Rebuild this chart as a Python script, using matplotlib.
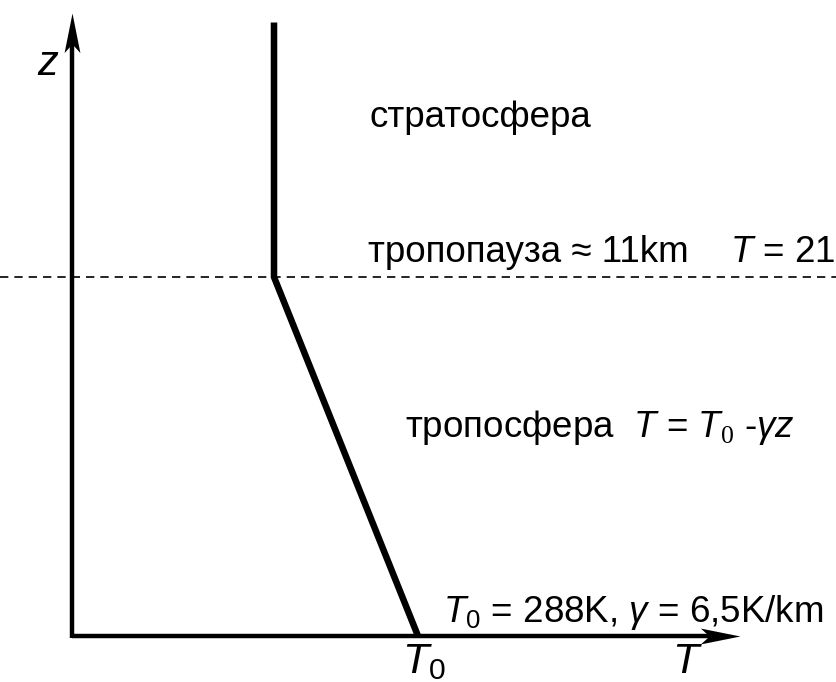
import numpy as np
import matplotlib
matplotlib.use("Agg")
import matplotlib.pyplot as plt
from matplotlib.path import Path
from matplotlib.markers import MarkerStyle
from matplotlib.transforms import Affine2D

plt.rcParams['font.family'] = ['Liberation Sans', 'DejaVu Sans']
plt.rcParams['mathtext.fontset'] = 'custom'
plt.rcParams['mathtext.rm'] = 'Liberation Serif'
plt.rcParams['mathtext.it'] = 'Liberation Sans:italic'
plt.rcParams['mathtext.sf'] = 'Liberation Sans'

# standard atmosphere profile (T in K, z in km)
T0 = 288
gamma = 6.5
z_trop = 11
T_strat = 216
z_top = 18.8
prof_T = [T0, T_strat, T_strat]
prof_z = [0, z_trop, z_top]

# axes of the sketch
T_min, T_max = 115, 449
z_max = 19.1

fig = plt.figure(figsize=(8.37, 6.82), dpi=100)
ax = fig.add_axes([0, 0, 1, 1])
ax.set_xlim(79, 497.5)
ax.set_ylim(-1.41, 19.49)
ax.axis('off')

# arrow head with a notched back
head = Path([(0, 0), (-1, 0.2), (-0.78, 0), (-1, -0.2), (0, 0)],
            [Path.MOVETO, Path.LINETO, Path.LINETO, Path.LINETO, Path.CLOSEPOLY])
head_x = MarkerStyle(head)
head_z = MarkerStyle(head, transform=Affine2D().rotate_deg(90))

ax.plot([T_min, T_max - 10], [0, 0], color='k', lw=3.2, solid_capstyle='butt')
ax.plot([T_min, T_min], [-0.05, z_max - 0.6], color='k', lw=3.2, solid_capstyle='butt')
ax.plot(T_max, 0, marker=head_x, ms=57, color='k', mew=0)
ax.plot(T_min, z_max, marker=head_z, ms=57, color='k', mew=0)

# tropopause level
ax.axhline(z_trop, color='k', lw=1.2, ls=(0, (5, 3.6)))

# temperature profile
ax.plot(prof_T, prof_z, color='k', lw=4.7, solid_joinstyle='miter',
        solid_capstyle='butt')

fs = 26.5
ax.text(97.5, 17.19, '$z$', fontsize=30, va='baseline')
ax.text(T0 + 3, -1.40, r'$T_{\mathsf{0}}$', fontsize=31, va='bottom', ha='center')
ax.text(415, -1.40, '$T$', fontsize=31, va='bottom')

ax.text(264, 15.59, 'стратосфера', fontsize=fs, va='baseline')
ax.text(263, 11.46, f'тропопауза ≈ {z_trop}km', fontsize=fs, va='baseline')
ax.text(444, 11.46, f'$T$ = {T_strat}K', fontsize=fs, va='baseline')
ax.text(281.5, 6.10, r'тропосфера  $T$ = $T_{0}$ -$\gamma z$',
        fontsize=fs, va='baseline')
gamma_txt = f'{gamma}'.replace('.', ',')
ax.text(300.5, 0.43, r'$T_{\mathsf{0}}$ = ' + f'{T0}K, ' + r'$\gamma$ = ' + gamma_txt + 'K/km',
        fontsize=fs, va='baseline')

fig.savefig('out.png', dpi=100)
